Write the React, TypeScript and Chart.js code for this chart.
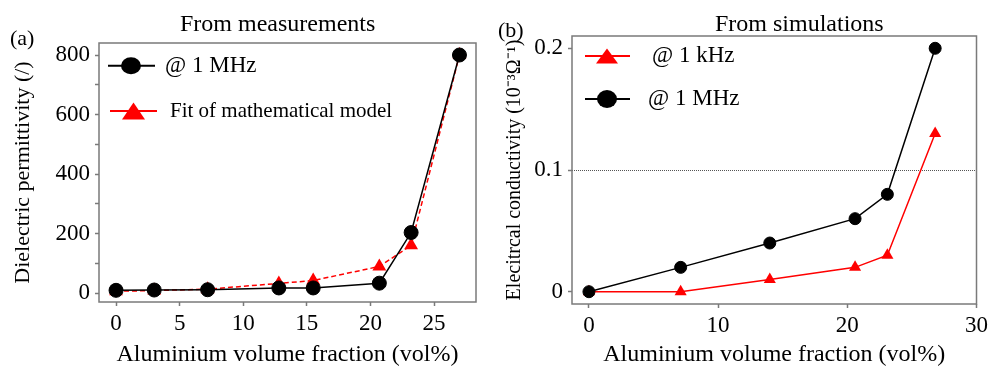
import React, { useEffect, useRef } from "react";
import { Chart, registerables } from "chart.js";

Chart.register(...registerables);

// ---------- data ----------
const measVolFraction = [0, 3, 7.2, 12.8, 15.5, 20.7, 23.2, 27];
const measPermittivity1MHz = [10, 11, 12, 18, 18, 34, 204, 800];
const modelPermittivityFit = [7, 9, 14, 33, 43, 90, 161, 800];

const simVolFraction = [0, 7.1, 14, 20.6, 23.1, 26.8];
const simConductivity1kHz = [0, 0, 0.01, 0.02, 0.03, 0.13];
const simConductivity1MHz = [0, 0.02, 0.04, 0.06, 0.08, 0.2];

const leftXTicks = [0, 5, 10, 15, 20, 25];
const leftYTicks = [0, 100, 200, 300, 400, 500, 600, 700, 800];
const leftYLabelled = [0, 200, 400, 600, 800];
const rightXTicks = [0, 10, 20, 30];
const rightYTicks = [0, 0.1, 0.2];
const rightYTickLabels = ["0", "0.1", "0.2"];
const rightRefLine = 0.1;

const SERIF = "'Liberation Serif', 'Times New Roman', serif";
const GREY = "#7a7a7a";

const pts = (xs: number[], ys: number[]) => xs.map((x, i) => ({ x, y: ys[i] }));

// frame around plot area
const framePlugin = {
  id: "frame",
  beforeDatasetsDraw(chart: any) {
    const { ctx, chartArea } = chart;
    ctx.save();
    ctx.strokeStyle = GREY;
    ctx.lineWidth = 1.5;
    ctx.strokeRect(chartArea.left, chartArea.top, chartArea.right - chartArea.left, chartArea.bottom - chartArea.top);
    ctx.restore();
  },
};

// legend drawn inside the plot area
const insideLegend = {
  id: "insideLegend",
  afterDatasetsDraw(chart: any, _args: any, opts: any) {
    const { ctx, chartArea } = chart;
    (opts.items || []).forEach((it: any) => {
      const ds = chart.data.datasets[it.ds];
      const y = chartArea.top + it.dy;
      ctx.save();
      ctx.strokeStyle = ds.borderColor;
      ctx.fillStyle = ds.borderColor;
      ctx.lineWidth = 2;
      ctx.setLineDash([]);
      ctx.beginPath();
      ctx.moveTo(chartArea.left + it.x0, y);
      ctx.lineTo(chartArea.left + it.x1, y);
      ctx.stroke();
      const cx = chartArea.left + it.mx;
      ctx.beginPath();
      if (it.marker === "circle") {
        ctx.ellipse(cx, y, it.rx, it.ry, 0, 0, Math.PI * 2);
      } else {
        ctx.moveTo(cx, y - it.h / 2);
        ctx.lineTo(cx + it.w / 2, y + it.h / 2);
        ctx.lineTo(cx - it.w / 2, y + it.h / 2);
        ctx.closePath();
      }
      ctx.fill();
      ctx.fillStyle = "#000";
      ctx.font = `${it.size}px ${SERIF}`;
      ctx.textBaseline = "middle";
      ctx.textAlign = "left";
      ctx.fillText(ds.label, chartArea.left + it.tx, y);
      ctx.restore();
    });
  },
};

const tickFont = { family: SERIF, size: 23 };
const axisTitleFont = { family: SERIF, size: 24, lineHeight: 1 };

function useChart(ref: React.RefObject<HTMLCanvasElement>, makeConfig: () => any) {
  useEffect(() => {
    if (!ref.current) return;
    const chart = new Chart(ref.current, makeConfig());
    return () => chart.destroy();
  }, []);
}

function leftConfig() {
  return {
    type: "line",
    data: {
      datasets: [
        {
          label: "@ 1 MHz",
          data: pts(measVolFraction, measPermittivity1MHz),
          borderColor: "#000",
          backgroundColor: "#000",
          borderWidth: 1.5,
          pointStyle: "circle",
          pointRadius: 7,
          pointBorderWidth: 1,
          pointBorderColor: "#000",
          pointBackgroundColor: "#000",
          order: 0,
        },
        {
          label: "Fit of mathematical model",
          data: pts(measVolFraction, modelPermittivityFit),
          borderColor: "#ff0000",
          backgroundColor: "#ff0000",
          borderWidth: 1.5,
          borderDash: [5, 3],
          pointStyle: "triangle",
          pointRadius: 8,
          pointBorderWidth: 0,
          pointBackgroundColor: "#ff0000",
          order: 1,
        },
      ],
    },
    options: {
      responsive: false,
      animation: false,
      events: [],
      layout: { padding: { left: 0, right: 14, top: 43, bottom: 0 } },
      plugins: {
        legend: { display: false },
        tooltip: { enabled: false },
        insideLegend: {
          items: [
            { ds: 0, x0: 9, x1: 56, dy: 22.7, mx: 32, marker: "circle", rx: 10, ry: 8.5, tx: 66, size: 23 },
            { ds: 1, x0: 11, x1: 58, dy: 68, mx: 34.5, marker: "triangle", w: 23, h: 17, tx: 71, size: 21 },
          ],
        },
      },
      scales: {
        x: {
          type: "linear",
          min: -1.34,
          max: 28.3,
          afterBuildTicks: (s: any) => { s.ticks = leftXTicks.map((v) => ({ value: v })); },
          afterFit: (s: any) => { s.height = 65; },
          ticks: { font: tickFont, color: "#000", padding: 4, maxRotation: 0, autoSkip: false },
          grid: { drawOnChartArea: false, drawTicks: true, tickLength: 4, tickColor: GREY, tickWidth: 1.5 },
          border: { display: false },
          title: {
            display: true,
            text: "Aluminium volume fraction (vol%)",
            color: "#000",
            font: axisTitleFont,
            padding: 0,
          },
        },
        y: {
          type: "linear",
          min: -29.2,
          max: 840.3,
          afterBuildTicks: (s: any) => { s.ticks = leftYTicks.map((v) => ({ value: v })); },
          afterFit: (s: any) => { s.width = 99; },
          ticks: {
            font: tickFont,
            color: "#000",
            padding: 5,
            autoSkip: false,
            callback: (v: number) => (leftYLabelled.includes(v) ? String(v) : ""),
          },
          grid: { drawOnChartArea: false, drawTicks: true, tickLength: 4, tickColor: GREY, tickWidth: 1.5 },
          border: { display: false },
          title: {
            display: true,
            text: "Dielectric permittivity (/)",
            color: "#000",
            font: { family: SERIF, size: 22, lineHeight: 1 },
            padding: { top: 12, bottom: 0 },
          },
        },
      },
    },
    plugins: [framePlugin, insideLegend],
  };
}

function rightConfig() {
  return {
    type: "line",
    data: {
      datasets: [
        {
          label: "@ 1 kHz",
          data: pts(simVolFraction, simConductivity1kHz),
          borderColor: "#ff0000",
          backgroundColor: "#ff0000",
          borderWidth: 1.5,
          pointStyle: "triangle",
          pointRadius: 7,
          pointBorderWidth: 0,
          pointBackgroundColor: "#ff0000",
          order: 1,
        },
        {
          label: "@ 1 MHz",
          data: pts(simVolFraction, simConductivity1MHz),
          borderColor: "#000",
          backgroundColor: "#000",
          borderWidth: 1.5,
          pointStyle: "circle",
          pointRadius: 6,
          pointBorderWidth: 1,
          pointBorderColor: "#000",
          pointBackgroundColor: "#000",
          order: 0,
        },
      ],
    },
    options: {
      responsive: false,
      animation: false,
      events: [],
      layout: { padding: { left: 0, right: 15, top: 36, bottom: 0 } },
      plugins: {
        legend: { display: false },
        tooltip: { enabled: false },
        insideLegend: {
          items: [
            { ds: 0, x0: 13, x1: 58, dy: 20, mx: 35, marker: "triangle", w: 22, h: 15, tx: 80, size: 23 },
            { ds: 1, x0: 13, x1: 58, dy: 63, mx: 35, marker: "circle", rx: 10, ry: 9, tx: 76, size: 23 },
          ],
        },
      },
      scales: {
        x: {
          type: "linear",
          min: -1.31,
          max: 30,
          afterBuildTicks: (s: any) => { s.ticks = rightXTicks.map((v) => ({ value: v })); },
          afterFit: (s: any) => { s.height = 63; },
          ticks: { font: tickFont, color: "#000", padding: 4, maxRotation: 0, autoSkip: false },
          grid: { drawOnChartArea: false, drawTicks: true, tickLength: 4, tickColor: GREY, tickWidth: 1.5 },
          border: { display: false },
          title: {
            display: true,
            text: "Aluminium volume fraction (vol%)",
            color: "#000",
            font: axisTitleFont,
            padding: 0,
          },
        },
        y: {
          type: "linear",
          min: -0.0101,
          max: 0.2101,
          afterBuildTicks: (s: any) => { s.ticks = rightYTicks.map((v) => ({ value: v })); },
          afterFit: (s: any) => { s.width = 82; },
          ticks: {
            font: tickFont,
            color: "#000",
            padding: 5,
            autoSkip: false,
            callback: (_v: number, i: number) => rightYTickLabels[i],
          },
          grid: {
            drawOnChartArea: true,
            drawTicks: true,
            tickLength: 4,
            tickColor: GREY,
            tickWidth: 1.5,
            lineWidth: 1,
            color: (c: any) => (c.tick && c.tick.value === rightRefLine ? "#555" : "rgba(0,0,0,0)"),
          },
          border: { display: false, dash: [1, 1] },
          title: {
            display: true,
            text: "Elecitrcal conductivity (10⁻³Ω⁻¹)",
            color: "#000",
            font: { family: SERIF, size: 20, lineHeight: 1 },
            padding: { top: 15, bottom: 0 },
          },
        },
      },
    },
    plugins: [framePlugin, insideLegend],
  };
}

const textStyle = (left: number, top: number, size: number): React.CSSProperties => ({
  position: "absolute",
  left,
  top,
  fontFamily: SERIF,
  fontSize: size,
  lineHeight: `${size}px`,
  whiteSpace: "nowrap",
  color: "#000",
});

export default function App() {
  const leftRef = useRef<HTMLCanvasElement>(null);
  const rightRef = useRef<HTMLCanvasElement>(null);
  useChart(leftRef, leftConfig);
  useChart(rightRef, rightConfig);
  return (
    <div style={{ position: "absolute", left: 0, top: 0, width: 992, height: 367, background: "#fff", overflow: "hidden" }}>
      <canvas ref={leftRef} width={490} height={367} style={{ position: "absolute", left: 0, top: 0, display: "block" }} />
      <canvas ref={rightRef} width={502} height={367} style={{ position: "absolute", left: 490, top: 0, display: "block" }} />
      <div style={textStyle(10, 27, 22)}>(a)</div>
      <div style={textStyle(180, 11, 24)}>From measurements</div>
      <div style={textStyle(498, 19, 22)}>(b)</div>
      <div style={textStyle(715, 11, 24)}>From simulations</div>
    </div>
  );
}
